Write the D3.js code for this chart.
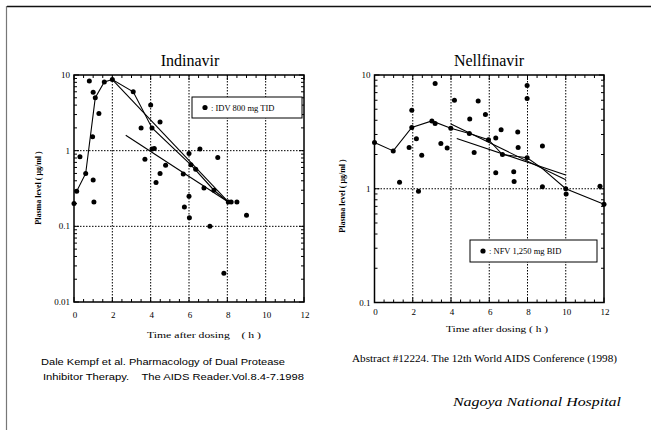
<!DOCTYPE html>
<html lang="en">
<head>
    <meta charset="UTF-8">
    <title>Indinavir / Nelfinavir</title>
    <script src="https://d3js.org/d3.v7.min.js"></script>
    <style>
        body { margin: 0; background: #fff; }
        text { white-space: pre; }
    </style>
</head>
<body>
<div id="chart"></div>

<script type=text/javascript>
    // ---- data ----
    var xTicks = [0, 2, 4, 6, 8, 10, 12];
    var gridX = [2, 4, 6, 8, 10];

    // Indinavir (IDV 800 mg TID)
    var idvYTicks = [0.01, 0.1, 1, 10];
    var idvYLabels = ["0.01", "0.1", "1", "10"];
    var idvT = [0, 0.14, 0.31, 0.61, 0.8, 0.97, 1.0, 1.0, 1.04, 1.11, 1.3, 1.58, 2.0, 3.09, 3.5, 3.7, 4.0, 4.07,
        4.07, 4.19, 4.28, 4.49, 4.49, 4.78, 5.7, 5.76, 6.0, 6.0, 6.02, 6.1, 6.35, 6.57, 6.78, 7.09, 7.3, 7.5,
        7.82, 8.05, 8.2, 8.5, 9.0];
    var idvV = [0.2, 0.29, 0.83, 0.5, 8.3, 1.53, 5.9, 0.41, 0.21, 5.0, 3.1, 8.1, 8.7, 6.0, 2.0, 0.77, 4.0, 2.0,
        1.05, 1.07, 0.38, 2.4, 0.5, 0.64, 0.49, 0.18, 0.92, 0.25, 0.13, 0.65, 0.57, 1.05, 0.32, 0.1, 0.3, 0.81,
        0.024, 0.21, 0.21, 0.21, 0.14];
    var idvMeanT = [0.14, 0.61, 1.11, 1.58, 2.0, 3.09, 4.07, 6.1, 7.3, 8.05];
    var idvMeanV = [0.29, 0.5, 5.0, 8.1, 8.7, 6.0, 2.0, 0.65, 0.3, 0.21];
    var idvFit1T = [2.0, 8.05];
    var idvFit1V = [8.7, 0.21];
    var idvFit2T = [2.7, 8.05];
    var idvFit2V = [1.6, 0.21];

    // Nelfinavir (NFV 1,250 mg BID)
    var nfvYTicks = [0.1, 1, 10];
    var nfvYLabels = ["0.1", "1", "10"];
    var nfvT = [0, 0.98, 1.31, 1.81, 1.95, 1.95, 2.19, 2.3, 2.47, 3.0, 3.17, 3.17, 3.47, 3.8, 3.99, 4.18, 4.96,
        4.98, 5.21, 5.42, 5.8, 5.96, 6.34, 6.34, 6.62, 6.69, 7.28, 7.3, 7.49, 7.51, 7.98, 7.98, 7.98, 8.78, 8.78,
        10.0, 10.02, 11.79, 12.0];
    var nfvV = [2.55, 2.15, 1.14, 2.3, 4.9, 3.46, 2.75, 0.95, 1.97, 3.95, 8.4, 3.75, 2.5, 2.28, 3.4, 6.0, 3.06,
        4.1, 2.08, 5.9, 4.5, 2.7, 2.8, 1.38, 3.3, 2.0, 1.41, 1.16, 3.15, 2.3, 8.1, 6.2, 1.87, 2.38, 1.04,
        1.0, 0.9, 1.05, 0.73];
    var nfvMeanT = [0, 0.98, 1.95, 3.0, 3.99, 4.96, 5.96, 6.69, 7.98, 8.75, 10.0, 12.0];
    var nfvMeanV = [2.55, 2.15, 3.46, 3.95, 3.4, 3.06, 2.7, 2.0, 1.87, 1.52, 1.0, 0.73];
    var nfvFit1T = [4.0, 10.0];
    var nfvFit1V = [3.7, 1.2];
    var nfvFit2T = [4.3, 10.0];
    var nfvFit2V = [2.77, 1.32];

    var width = 651;
    var height = 430;
    var serif = "'Liberation Serif', 'DejaVu Serif', serif";
    var sans = "'Liberation Sans', Arial, sans-serif";

    var svg = d3.select("#chart")
        .append("svg")
        .attr("width", width)
        .attr("height", height);

    // page frame (top and left edge)
    svg.append("line").attr("x1", 7).attr("x2", width).attr("y1", 6.5).attr("y2", 6.5)
        .attr("stroke", "#111").attr("stroke-width", 1.5);
    svg.append("line").attr("x1", 6.5).attr("x2", 6.5).attr("y1", 6).attr("y2", height)
        .attr("stroke", "#777").attr("stroke-width", 1.2);

    function zip(ts, vs) {
        return ts.map(function (t, i) { return [t, vs[i]]; });
    }

    function drawPanel(o) {
        var x = d3.scaleLinear().domain([0, 12]).range([o.left, o.right]);
        var y = d3.scaleLog().domain(o.yDomain).range([o.bottom, o.top]);
        var g = svg.append("g");

        // minor log ticks
        var minor = [];
        for (var d = o.yDomain[0]; d < o.yDomain[1] * 0.999; d *= 10) {
            for (var k = 2; k <= 9; k++) minor.push(d * k);
        }
        var xMinor = d3.range(0, 12.01, 0.5);

        // dotted grid
        g.selectAll(".gx").data(gridX).enter().append("line")
            .attr("x1", function (d) { return x(d); })
            .attr("x2", function (d) { return x(d); })
            .attr("y1", o.top).attr("y2", o.bottom)
            .attr("stroke", "#000").attr("stroke-width", 1)
            .attr("stroke-dasharray", "1.5,1.5");
        g.selectAll(".gy").data(o.yTicks.slice(1, -1)).enter().append("line")
            .attr("x1", o.left).attr("x2", o.right)
            .attr("y1", function (d) { return y(d); })
            .attr("y2", function (d) { return y(d); })
            .attr("stroke", "#000").attr("stroke-width", 1)
            .attr("stroke-dasharray", "1.5,1.5");

        // inward ticks on all four sides
        var tk = g.append("g").attr("stroke", "#000").attr("stroke-width", 1);
        [o.left, o.right].forEach(function (sx) {
            var dir = sx === o.left ? 1 : -1;
            tk.selectAll(null).data(minor).enter().append("line")
                .attr("x1", sx).attr("x2", sx + dir * 3)
                .attr("y1", function (d) { return y(d); }).attr("y2", function (d) { return y(d); });
            tk.selectAll(null).data(o.yTicks).enter().append("line")
                .attr("x1", sx).attr("x2", sx + dir * 5)
                .attr("y1", function (d) { return y(d); }).attr("y2", function (d) { return y(d); });
        });
        [o.top, o.bottom].forEach(function (sy) {
            var dir = sy === o.bottom ? -1 : 1;
            tk.selectAll(null).data(xMinor).enter().append("line")
                .attr("x1", function (d) { return x(d); }).attr("x2", function (d) { return x(d); })
                .attr("y1", sy).attr("y2", function (d) { return sy + dir * (d % 2 === 0 ? 5 : 3); });
        });

        // frame
        g.append("rect")
            .attr("x", o.left).attr("y", o.top)
            .attr("width", o.right - o.left).attr("height", o.bottom - o.top)
            .attr("fill", "none").attr("stroke", "#000").attr("stroke-width", 1.5);

        // tick labels
        g.selectAll(".yl").data(o.yTicks).enter().append("text")
            .attr("x", o.left - 4)
            .attr("y", function (d) { return y(d) + 3; })
            .attr("text-anchor", "end")
            .attr("font-family", serif).attr("font-size", "9px")
            .text(function (d, i) { return o.yLabels[i]; });
        g.selectAll(".xl").data(xTicks).enter().append("text")
            .attr("x", function (d) { return x(d) + 1; })
            .attr("y", o.bottom + o.xLabelGap)
            .attr("text-anchor", "middle")
            .attr("font-family", serif).attr("font-size", "9px")
            .text(function (d) { return d; });

        // axis titles
        g.append("text")
            .attr("x", o.xTitle[0]).attr("y", o.xTitle[1])
            .attr("font-family", serif).attr("font-size", "9px")
            .attr("textLength", o.xTitle[2]).attr("lengthAdjust", "spacingAndGlyphs")
            .text(o.xTitleText);
        g.append("text")
            .attr("transform", "translate(" + o.yTitle[0] + "," + o.yTitle[1] + ") rotate(-90)")
            .attr("text-anchor", "middle")
            .attr("font-family", serif).attr("font-size", "8px").attr("font-weight", "bold")
            .text("Plasma level ( \u03bcg/ml )");

        // title
        g.append("text")
            .attr("x", o.title[0]).attr("y", o.title[1])
            .attr("text-anchor", "middle")
            .attr("font-family", serif).attr("font-size", "16px")
            .text(o.titleText);

        // lines
        var line = d3.line()
            .x(function (d) { return x(d[0]); })
            .y(function (d) { return y(d[1]); });
        o.lines.forEach(function (pts) {
            g.append("path")
                .attr("d", line(pts))
                .attr("fill", "none").attr("stroke", "#000").attr("stroke-width", 1.1);
        });

        // points
        g.selectAll(".pt").data(o.points).enter().append("circle")
            .attr("cx", function (d) { return x(d[0]); })
            .attr("cy", function (d) { return y(d[1]); })
            .attr("r", 2.5).attr("fill", "#000");

        // legend
        var lg = g.append("g");
        lg.append("rect")
            .attr("x", o.legend[0]).attr("y", o.legend[1])
            .attr("width", o.legend[2]).attr("height", o.legend[3])
            .attr("fill", "#fff").attr("stroke", "#000").attr("stroke-width", 1);
        lg.append("circle")
            .attr("cx", o.legend[0] + 13).attr("cy", o.legend[1] + o.legend[3] / 2)
            .attr("r", 2.6).attr("fill", "#000");
        lg.append("text")
            .attr("x", o.legend[0] + 19).attr("y", o.legend[1] + o.legend[3] / 2 + 3)
            .attr("font-family", serif).attr("font-size", "8.5px")
            .text(o.legendText);
    }

    drawPanel({
        left: 74, right: 304, top: 75, bottom: 302,
        yDomain: [0.01, 10], yTicks: idvYTicks, yLabels: idvYLabels,
        xLabelGap: 16,
        xTitle: [147, 338, 114], xTitleText: "Time after dosing    ( h )",
        yTitle: [41, 188],
        title: [190, 66], titleText: "Indinavir",
        lines: [zip(idvMeanT, idvMeanV), zip(idvFit1T, idvFit1V), zip(idvFit2T, idvFit2V)],
        points: zip(idvT, idvV),
        legend: [192, 97, 110, 21], legendText: ": IDV 800 mg TID"
    });

    drawPanel({
        left: 374.5, right: 604, top: 75, bottom: 302.5,
        yDomain: [0.1, 10], yTicks: nfvYTicks, yLabels: nfvYLabels,
        xLabelGap: 12,
        xTitle: [446, 332, 102], xTitleText: "Time after dosing ( h )",
        yTitle: [345, 196],
        title: [489, 66], titleText: "Nellfinavir",
        lines: [zip(nfvMeanT, nfvMeanV), zip(nfvFit1T, nfvFit1V), zip(nfvFit2T, nfvFit2V)],
        points: zip(nfvT, nfvV),
        legend: [470, 240, 127, 22], legendText: ": NFV 1,250 mg BID"
    });

    // sources
    svg.append("text")
        .attr("x", 41).attr("y", 365)
        .attr("font-family", sans).attr("font-size", "9.5px")
        .attr("textLength", 244).attr("lengthAdjust", "spacingAndGlyphs")
        .text("Dale Kempf et al. Pharmacology of Dual Protease");
    svg.append("text")
        .attr("x", 43).attr("y", 380)
        .attr("font-family", sans).attr("font-size", "9.5px")
        .attr("textLength", 261).attr("lengthAdjust", "spacingAndGlyphs")
        .text("Inhibitor Therapy.    The AIDS Reader.Vol.8.4-7.1998");
    svg.append("text")
        .attr("x", 352).attr("y", 362)
        .attr("font-family", serif).attr("font-size", "9.5px")
        .attr("textLength", 265).attr("lengthAdjust", "spacingAndGlyphs")
        .text("Abstract #12224. The 12th World AIDS Conference (1998)");
    svg.append("text")
        .attr("x", 453).attr("y", 406)
        .attr("font-family", serif).attr("font-size", "13.5px").attr("font-style", "italic")
        .attr("textLength", 168).attr("lengthAdjust", "spacingAndGlyphs")
        .text("Nagoya National Hospital");
</script>
</body>
</html>
